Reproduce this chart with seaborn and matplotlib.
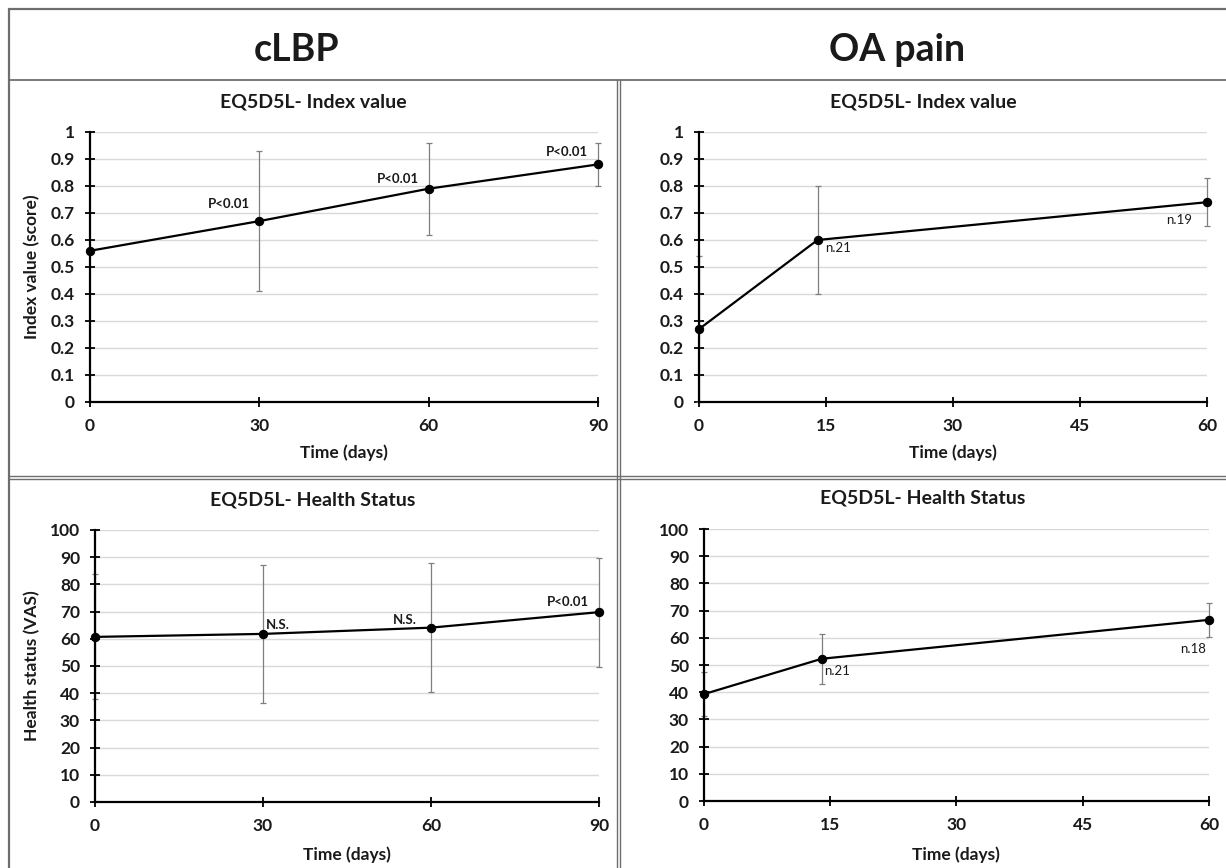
import numpy as np
import pandas as pd
import seaborn as sns
import matplotlib.pyplot as plt
from matplotlib.lines import Line2D

# data
clbp_days = [0, 30, 60, 90]
clbp_index = [0.56, 0.67, 0.79, 0.88]
clbp_index_err = [0.0, 0.26, 0.17, 0.08]
clbp_index_notes = ["", "P<0.01", "P<0.01", "P<0.01"]
clbp_health = [60.7, 61.8, 64.1, 69.8]
clbp_health_err = [23.0, 25.4, 23.8, 20.0]
clbp_health_notes = ["", "N.S.", "N.S.", "P<0.01"]

oa_days = [0, 14, 60]
oa_index = [0.27, 0.60, 0.74]
oa_index_err = [0.27, 0.20, 0.09]
oa_index_notes = ["", "n.21", "n.19"]
oa_health = [39.3, 52.3, 66.6]
oa_health_err = [8.0, 9.2, 6.3]
oa_health_notes = ["", "n.21", "n.18"]

clbp_ticks = [0, 30, 60, 90]
oa_ticks = [0, 15, 30, 45, 60]
index_ticks = [0, 0.1, 0.2, 0.3, 0.4, 0.5, 0.6, 0.7, 0.8, 0.9, 1]
health_ticks = [0, 10, 20, 30, 40, 50, 60, 70, 80, 90, 100]

W, H = 1226, 868
sns.set_style("white")
plt.rcParams['font.family'] = ['Lato', 'DejaVu Sans']

fig = plt.figure(figsize=(W / 100, H / 100), dpi=100)


def px_axes(left, top, right, bottom):
    return fig.add_axes([left / W, 1 - bottom / H, (right - left) / W, (bottom - top) / H])


def fig_text(x, y, s, **kw):
    fig.text(x / W, 1 - y / H, s, ha='center', va='center', **kw)


def panel(ax, days, vals, errs, notes, offsets, xmax, xticks, ymax, yticks, ylabels):
    df = pd.DataFrame({'day': days, 'val': vals})
    ax.errorbar(days, vals, yerr=errs, fmt='none', ecolor='#7f7f7f', elinewidth=0.9,
                capsize=2.5, capthick=0.9, zorder=2, clip_on=False)
    sns.lineplot(data=df, x='day', y='val', ax=ax, color='black', linewidth=1.6,
                 marker='o', markersize=6, markeredgecolor='black', zorder=4, clip_on=False)
    for d, v, s, (dx, dy) in zip(days, vals, notes, offsets):
        if s:
            bold = s.startswith('P') or s.startswith('N')
            ax.annotate(s, (d, v), xytext=(dx, dy), textcoords='offset pixels',
                        ha='center', va='center', fontsize=9.5,
                        fontweight='bold' if bold else 'normal', color='#1a1a1a')
    ax.set_xlim(0, xmax)
    ax.set_ylim(0, ymax)
    ax.set_xticks(xticks)
    ax.set_yticks(yticks)
    ax.set_yticklabels(ylabels)
    ax.set_xlabel('')
    ax.set_ylabel('')
    ax.grid(axis='y', color='#d9d9d9', linewidth=1.0, zorder=0)
    ax.set_axisbelow(True)
    sns.despine(ax=ax)
    for sp in ['left', 'bottom']:
        ax.spines[sp].set_color('black')
        ax.spines[sp].set_linewidth(1.6)
        ax.spines[sp].set_zorder(5)
    ax.tick_params(axis='both', direction='inout', length=7.5, width=1.3, color='black',
                   labelsize=12.5, labelcolor='#1a1a1a', left=True, bottom=True)
    ax.tick_params(axis='x', pad=8)
    ax.tick_params(axis='y', pad=7)
    for lab in ax.get_xticklabels() + ax.get_yticklabels():
        lab.set_fontweight('bold')
    ax.patch.set_alpha(0)


idx_labels = ['0', '0.1', '0.2', '0.3', '0.4', '0.5', '0.6', '0.7', '0.8', '0.9', '1']
hs_labels = [str(t) for t in health_ticks]

ax1 = px_axes(90, 132, 598, 402)
panel(ax1, clbp_days, clbp_index, clbp_index_err, clbp_index_notes,
      [(0, 0), (-30, 17), (-31, 10), (-31, 12)], 90, clbp_ticks, 1, index_ticks, idx_labels)

ax2 = px_axes(699, 132, 1207, 402)
panel(ax2, oa_days, oa_index, oa_index_err, oa_index_notes,
      [(0, 0), (21, -8), (-28, -18)], 60, oa_ticks, 1, index_ticks, idx_labels)

ax3 = px_axes(95, 530, 599, 802)
panel(ax3, clbp_days, clbp_health, clbp_health_err, clbp_health_notes,
      [(0, 0), (15, 9), (-26, 8), (-31, 10)], 90, clbp_ticks, 100, health_ticks, hs_labels)

ax4 = px_axes(704, 529, 1209, 801)
panel(ax4, oa_days, oa_health, oa_health_err, oa_health_notes,
      [(0, 0), (15, -12), (-16, -29)], 60, oa_ticks, 100, health_ticks, hs_labels)

# headers and titles
fig_text(297, 50, 'cLBP', fontsize=27, fontweight='bold', color='#1a1a1a')
fig_text(897, 50, 'OA pain', fontsize=27, fontweight='bold', color='#1a1a1a')
fig_text(313, 102, 'EQ5D5L- Index value', fontsize=14, fontweight='bold', color='#1a1a1a')
fig_text(923, 102, 'EQ5D5L- Index value', fontsize=14, fontweight='bold', color='#1a1a1a')
fig_text(313, 500, 'EQ5D5L- Health Status', fontsize=14, fontweight='bold', color='#1a1a1a')
fig_text(923, 498, 'EQ5D5L- Health Status', fontsize=14, fontweight='bold', color='#1a1a1a')

# axis labels
fig_text(32, 267, 'Index value (score)', fontsize=12.5, fontweight='bold', rotation=90, color='#1a1a1a')
fig_text(32, 666, 'Health status (VAS)', fontsize=12.5, fontweight='bold', rotation=90, color='#1a1a1a')
fig_text(344, 453, 'Time (days)', fontsize=12.5, fontweight='bold', color='#1a1a1a')
fig_text(953, 453, 'Time (days)', fontsize=12.5, fontweight='bold', color='#1a1a1a')
fig_text(347, 855, 'Time (days)', fontsize=12.5, fontweight='bold', color='#1a1a1a')
fig_text(956, 855, 'Time (days)', fontsize=12.5, fontweight='bold', color='#1a1a1a')


# table borders
def border(x0, y0, x1, y1, lw=1.6, color='#6e6e6e'):
    fig.add_artist(Line2D([x0 / W, x1 / W], [1 - y0 / H, 1 - y1 / H], color=color, linewidth=lw))


border(9, 9, W, 9)
border(9, 9, 9, H)
border(9, 79.5, W, 79.5, lw=1.3)
border(9, 476, W, 476, lw=1.0)
border(9, 478.5, W, 478.5, lw=1.0)
border(617, 80, 617, H, lw=1.0)
border(619.5, 80, 619.5, H, lw=1.0)

fig.savefig('out.png', dpi=100)
